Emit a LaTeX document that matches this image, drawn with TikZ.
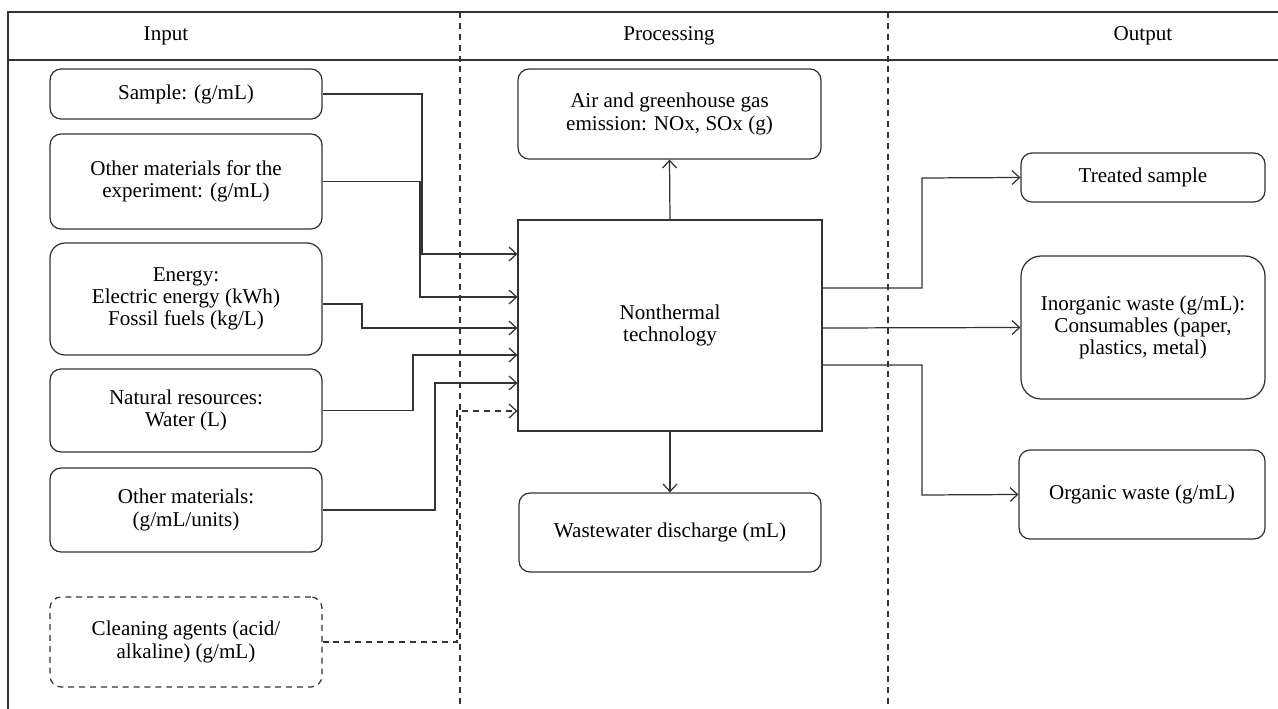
\documentclass[tikz,border=0pt]{standalone}
\usepackage{fontspec}
\setmainfont{Liberation Serif}
\usetikzlibrary{arrows.meta}
\begin{document}
\begin{tikzpicture}[x=0.02cm, y=-0.02cm, line width=0.7pt, draw=black!80,
  box/.style={draw, rounded corners=0.22cm, align=center, inner sep=0pt,
    font=\fontsize{12}{12.6}\selectfont},
  head/.style={font=\fontsize{12}{12.6}\selectfont},
  arr/.style={-{Straight Barb[length=1.5mm, width=2.8mm]}},
  dsh/.style={dash pattern=on 3.4pt off 2.8pt}]
\useasboundingbox (0,0) rectangle (1278,709);
% frame and columns
\draw (1278,12) -- (8,12) -- (8,709);
\draw (8,60) -- (1278,60);
\draw[dsh, line width=0.6pt] (460,12) -- (460,709);
\draw[dsh, line width=0.6pt] (888,12) -- (888,709);
\node[head] (hin)   at (166,36)  {Input};
\node[head] (hproc) at (669,36)  {Processing};
\node[head] (hout)  at (1143,36) {Output};
% input
\node[box, minimum width=5.44cm, minimum height=1.0cm]  (sample)   at (186,94)    {Sample: (g/mL)};
\node[box, minimum width=5.44cm, minimum height=1.9cm]  (othermat) at (186,181.5) {Other materials for the\\experiment: (g/mL)};
\node[box, minimum width=5.44cm, minimum height=2.24cm, rounded corners=0.3cm] (energy) at (186,299) {Energy:\\Electric energy (kWh)\\Fossil fuels (kg/L)};
\node[box, minimum width=5.44cm, minimum height=1.66cm] (natres)   at (186,410.5) {Natural resources:\\Water (L)};
\node[box, minimum width=5.44cm, minimum height=1.68cm] (units)    at (186,510)   {Other materials:\\(g/mL/units)};
\node[box, dsh, minimum width=5.44cm, minimum height=1.8cm] (cleaning) at (186,642) {Cleaning agents (acid/\\alkaline) (g/mL)};
% processing
\node[box, minimum width=6.06cm, minimum height=1.8cm]  (air)   at (669.5,114)  {Air and greenhouse gas\\emission: NOx, SOx (g)};
\node[box, rounded corners=0pt, minimum width=6.08cm, minimum height=4.22cm] (tech) at (670,325.5) {Nonthermal\\technology};
\node[box, minimum width=6.04cm, minimum height=1.58cm] (waste) at (670,532.5)  {Wastewater discharge (mL)};
% output
\node[box, minimum width=4.88cm, minimum height=0.98cm] (treated)   at (1143,177.5) {Treated sample};
\node[box, minimum width=4.88cm, minimum height=2.86cm, rounded corners=0.4cm] (inorganic) at (1143,327.5) {Inorganic waste (g/mL):\\Consumables (paper,\\plastics, metal)};
\node[box, minimum width=4.92cm, minimum height=1.78cm] (organic)   at (1142,494.5) {Organic waste (g/mL)};
% connectors
\draw[arr] (sample.east) -| (422,254) -- (tech.west |- 0,254);
\draw[arr] (othermat.east) -| (420,297) -- (tech.west |- 0,297);
\draw[arr] (energy.east |- 0,304) -| (362,328) -- (tech.west |- 0,328);
\draw[arr] (natres.east) -| (413,355) -- (tech.west |- 0,355);
\draw[arr] (units.east) -| (435,383) -- (tech.west |- 0,383);
\draw[arr, dsh] (cleaning.east) -| (457,411) -- (tech.west |- 0,411);
\draw[arr] (tech.north) -- (air.south);
\draw[arr] (tech.south) -- (waste.north);
\draw[arr] (tech.east |- 0,288) -| (922,178) -- (treated.west);
\draw[arr] (tech.east |- 0,328) -- (inorganic.west);
\draw[arr] (tech.east |- 0,365) -| (922,495) -- (organic.west);
\end{tikzpicture}
\end{document}
